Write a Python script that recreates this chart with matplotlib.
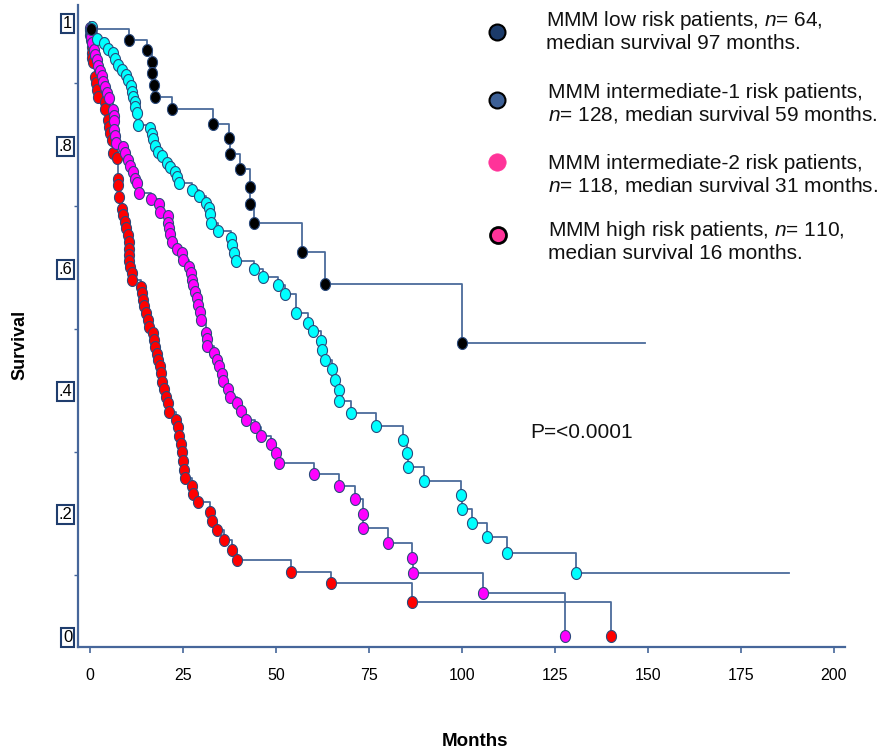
import numpy as np
import matplotlib
matplotlib.use('Agg')
import matplotlib.pyplot as plt
from matplotlib.path import Path

plt.rcParams['font.family'] = ['Liberation Sans', 'DejaVu Sans']
plt.rcParams['mathtext.fontset'] = 'custom'
plt.rcParams['mathtext.it'] = 'Liberation Sans:italic'
plt.rcParams['mathtext.rm'] = 'Liberation Sans'

# ---------------- data (months, survival) ----------------
low_t = [0.3, 10.5, 15.3, 16.7, 16.7, 17.2, 17.5, 22.0, 33.1, 37.4, 37.6, 40.3,
         43.0, 43.0, 44.1, 57.0, 63.2, 100.0]
low_s = [0.989, 0.971, 0.954, 0.935, 0.917, 0.897, 0.878, 0.858, 0.834, 0.811,
         0.785, 0.760, 0.731, 0.704, 0.673, 0.625, 0.573, 0.477]
low_end = 149.2

int1_t = [0.5, 1.8, 3.8, 4.9, 6.3, 6.7, 7.6, 8.5, 9.6, 10.3, 11.0, 11.4, 11.6, 12.1,
          12.1, 12.6, 13.0, 16.1, 16.6, 16.9, 17.5, 18.4, 19.3, 20.6, 21.5, 22.8,
          23.3, 23.9, 27.3, 29.3, 31.1, 32.0, 32.3, 32.5, 34.5, 37.8, 38.1, 38.7,
          39.2, 44.1, 46.4, 50.5, 52.4, 55.3, 58.7, 60.0, 62.0, 62.3, 63.2, 65.0,
          65.9, 67.0, 67.0, 70.2, 76.8, 84.1, 85.1, 85.4, 89.8, 99.7, 99.9, 102.6,
          106.8, 112.0, 130.7]
int1_s = [0.992, 0.973, 0.965, 0.956, 0.949, 0.939, 0.930, 0.922, 0.914, 0.906,
          0.896, 0.886, 0.878, 0.870, 0.861, 0.851, 0.832, 0.827, 0.818, 0.809,
          0.798, 0.789, 0.782, 0.770, 0.764, 0.756, 0.748, 0.738, 0.726, 0.717,
          0.705, 0.697, 0.687, 0.672, 0.660, 0.648, 0.637, 0.624, 0.611, 0.597,
          0.585, 0.572, 0.557, 0.526, 0.510, 0.496, 0.481, 0.465, 0.450, 0.435,
          0.417, 0.400, 0.383, 0.363, 0.342, 0.320, 0.298, 0.275, 0.253, 0.229,
          0.207, 0.184, 0.161, 0.135, 0.102]
int1_end = 187.9

int2_t = [0.1, 0.2, 0.3, 0.6, 1.1, 1.3, 1.8, 2.2, 2.7, 3.1, 3.6, 4.0, 4.5, 5.1, 6.1,
          6.5, 6.5, 6.5, 6.7, 6.9, 8.8, 9.4, 10.3, 10.8, 11.6, 12.1, 12.6, 13.3,
          16.3, 18.5, 18.8, 20.9, 21.0, 21.3, 21.4, 22.1, 23.3, 24.7, 25.1, 26.7,
          27.1, 27.3, 27.8, 28.2, 28.7, 29.1, 29.6, 29.8, 31.1, 31.4, 31.5, 33.3,
          34.1, 34.7, 35.4, 35.8, 37.0, 37.6, 39.4, 40.6, 42.0, 44.4, 46.0, 48.7,
          49.9, 50.9, 60.3, 66.9, 71.2, 73.4, 73.4, 80.0, 86.5, 86.7, 105.7, 127.6]
int2_s = [0.990, 0.982, 0.975, 0.965, 0.954, 0.946, 0.938, 0.929, 0.920, 0.912,
          0.903, 0.894, 0.884, 0.876, 0.857, 0.847, 0.838, 0.824, 0.814, 0.803,
          0.797, 0.786, 0.775, 0.765, 0.756, 0.745, 0.737, 0.721, 0.712, 0.704,
          0.691, 0.684, 0.673, 0.664, 0.655, 0.642, 0.631, 0.623, 0.612, 0.601,
          0.591, 0.580, 0.572, 0.561, 0.550, 0.539, 0.528, 0.515, 0.493, 0.483,
          0.473, 0.461, 0.450, 0.440, 0.427, 0.416, 0.403, 0.390, 0.379, 0.366,
          0.351, 0.340, 0.325, 0.313, 0.298, 0.281, 0.264, 0.244, 0.223, 0.198,
          0.176, 0.152, 0.127, 0.102, 0.070, 0.0]

high_t = [0.1, 0.1, 0.3, 0.5, 0.5, 0.6, 0.9, 1.3, 1.5, 1.8, 2.1, 4.0, 4.0, 4.9, 5.1,
          5.4, 5.8, 6.3, 7.2, 7.6, 7.6, 7.8, 8.5, 9.0, 9.4, 9.6, 10.3, 10.5, 10.5,
          10.6, 10.6, 10.8, 11.2, 11.4, 13.7, 14.1, 14.3, 14.6, 15.0, 15.5, 15.9,
          17.0, 17.3, 17.5, 18.1, 18.4, 18.8, 19.1, 19.4, 19.9, 20.4, 21.0, 21.2,
          23.0, 23.7, 24.0, 24.4, 24.7, 24.9, 25.3, 25.5, 27.5, 27.8, 29.0, 32.3,
          32.9, 34.1, 36.1, 38.3, 39.4, 54.0, 64.8, 86.5, 140.1]
high_s = [0.987, 0.979, 0.971, 0.960, 0.949, 0.941, 0.935, 0.911, 0.900, 0.890,
          0.878, 0.870, 0.859, 0.840, 0.829, 0.819, 0.808, 0.786, 0.778, 0.745,
          0.735, 0.715, 0.696, 0.686, 0.675, 0.664, 0.653, 0.642, 0.631, 0.621,
          0.610, 0.601, 0.591, 0.580, 0.569, 0.559, 0.548, 0.537, 0.526, 0.515,
          0.504, 0.493, 0.482, 0.471, 0.460, 0.450, 0.439, 0.428, 0.414, 0.403,
          0.390, 0.379, 0.365, 0.352, 0.340, 0.326, 0.313, 0.299, 0.285, 0.270,
          0.257, 0.244, 0.231, 0.218, 0.202, 0.188, 0.173, 0.157, 0.140, 0.124,
          0.105, 0.086, 0.056, 0.0]

x_ticks = [0, 25, 50, 75, 100, 125, 150, 175, 200]
y_ticks = [0, 0.2, 0.4, 0.6, 0.8, 1.0]
y_tick_labels = ['0', '.2', '.4', '.6', '.8', '1']

legend_labels = [
    "MMM low risk patients, $n$= 64,\nmedian survival 97 months.",
    "MMM intermediate-1 risk patients,\n$n$= 128, median survival 59 months.",
    "MMM intermediate-2 risk patients,\n$n$= 118, median survival 31 months.",
    "MMM high risk patients, $n$= 110,\nmedian survival 16 months.",
]

# ---------------- figure ----------------
W, H = 889, 752
fig = plt.figure(figsize=(W / 100, H / 100), dpi=100)
ax = fig.add_axes([78 / W, 1 - 647 / H, (845 - 78) / W, (647 - 5) / H])
ax.set_xlim(-3.23, 202.96)
ax.set_ylim(-0.0179, 1.0277)

theta = np.linspace(0, 2 * np.pi, 64)
ell = Path(np.column_stack([0.84 * np.cos(theta), np.sin(theta)]), closed=True)

line_col = '#4b6b9b'
edge_col = '#2b4a7c'

series = [
    (high_t, high_s, None, '#ff0000'),
    (int2_t, int2_s, None, '#ff00ff'),
    (int1_t, int1_s, int1_end, '#00ffff'),
    (low_t, low_s, low_end, '#000000'),
]
z = 2
for t, s, end, col in series:
    tt = [0.0] + list(t)
    ss = [1.0] + list(s)
    if end is not None:
        tt.append(end)
        ss.append(s[-1])
    ax.plot(tt, ss, drawstyle='steps-post', color=line_col, lw=1.3, zorder=1)
    ax.plot(t, s, linestyle='none', marker=ell, markersize=8.6,
            markerfacecolor=col, markeredgecolor=edge_col, markeredgewidth=0.8,
            zorder=z)
    z += 1

for sp in ['top', 'right']:
    ax.spines[sp].set_visible(False)
for sp in ['left', 'bottom']:
    ax.spines[sp].set_color('#46669a')
    ax.spines[sp].set_linewidth(1.6)

ax.set_xticks(x_ticks)
ax.set_xticklabels([str(v) for v in x_ticks])
ax.tick_params(axis='x', length=4, width=1.2, color='#46669a', pad=11,
               labelsize=11.5)
ax.set_yticks(y_ticks)
ax.set_yticklabels(y_tick_labels)
ax.set_yticks([0.1, 0.3, 0.5, 0.7, 0.9], minor=True)
ax.tick_params(axis='y', which='major', length=0, pad=4, labelsize=12)
ax.tick_params(axis='y', which='minor', length=3, width=1.0, color='#46669a')
for lab in ax.get_yticklabels():
    lab.set_bbox(dict(boxstyle='square,pad=0.12', facecolor='white',
                      edgecolor='#1f3d6d', linewidth=1.5))

# ---------------- overlay for legend / labels (pixel coordinates) ----------------
ov = fig.add_axes([0, 0, 1, 1], zorder=10)
ov.set_xlim(0, W)
ov.set_ylim(H, 0)
ov.axis('off')

leg_marker = [
    dict(xy=(497, 32), fc='#1c3b6a', ec='#000000', ms=11.5, mew=1.5),
    dict(xy=(497, 100), fc='#3d6096', ec='#000000', ms=11.5, mew=1.5),
    dict(xy=(497, 162), fc='#ff3399', ec='#ff3399', ms=12.5, mew=0.5),
    dict(xy=(498, 235), fc='#ff3399', ec='#000000', ms=11.5, mew=2.0),
]
leg_text_xy = [(546, 31), (548, 104), (548, 175), (548, 241)]
for m, lab, (tx, ty) in zip(leg_marker, legend_labels, leg_text_xy):
    ov.plot([m['xy'][0]], [m['xy'][1]], marker='o', linestyle='none',
            markersize=m['ms'], markerfacecolor=m['fc'],
            markeredgecolor=m['ec'], markeredgewidth=m['mew'])
    ov.text(tx, ty, lab, fontsize=15, ha='left', va='center', color='#111111',
            linespacing=1.15)

ov.text(530, 433, "P=<0.0001", fontsize=15, ha='left', va='center',
        color='#111111')
ov.text(20, 345, "Survival", fontsize=13, fontweight='bold', rotation=90,
        ha='center', va='center')
ov.text(475, 742, "Months", fontsize=13.5, fontweight='bold', ha='center',
        va='center')

fig.savefig('out.png', dpi=100)
